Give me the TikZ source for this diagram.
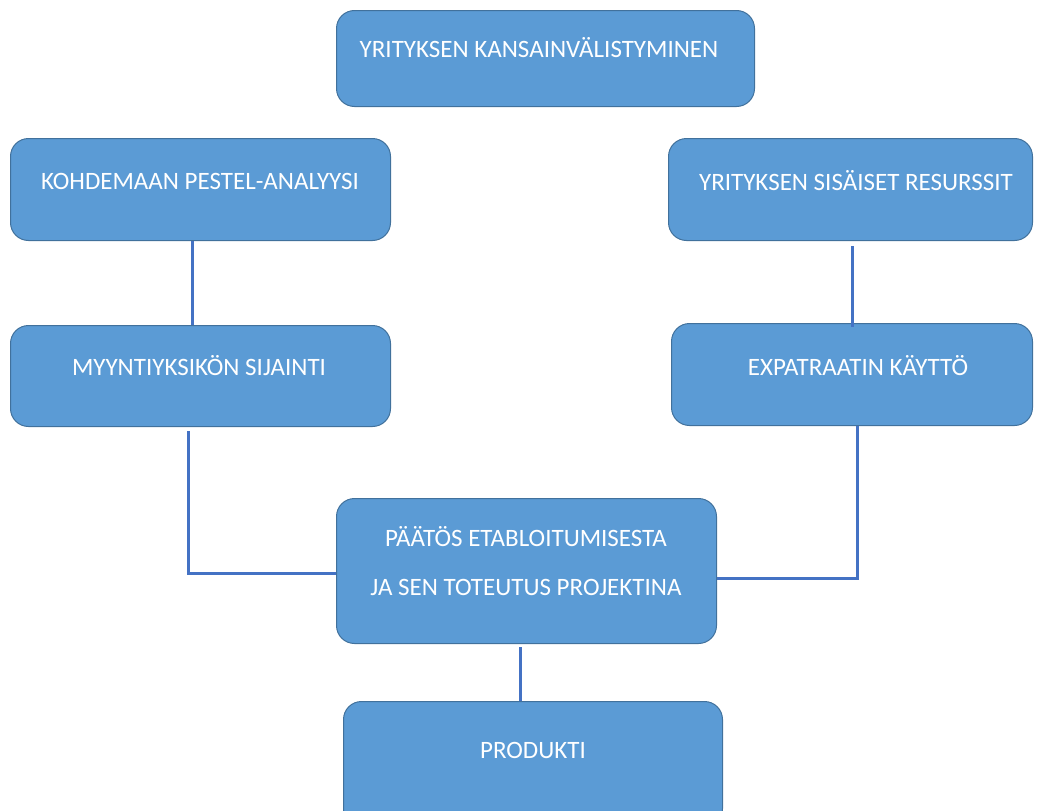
\documentclass[tikz,border=0pt]{standalone}
\usepackage{fontspec}
\setmainfont{Carlito}
\definecolor{boxfill}{HTML}{5B9BD5}
\definecolor{boxline}{HTML}{41719C}
\definecolor{conn}{HTML}{4472C4}
\begin{document}
\begin{tikzpicture}[x=1pt,y=-1pt,
  box/.style={draw=boxline, line width=1pt, fill=boxfill, rounded corners=18pt, inner sep=0pt, anchor=north west},
  txt/.style={text=white, font=\fontsize{25}{30}\selectfont, inner sep=0pt},
  link/.style={draw=conn, line width=2.5pt}]
\useasboundingbox (0,0) rectangle (1045,811);
% boxes
\node[box, minimum width=418pt, minimum height=96pt] (top) at (336,10) {};
\node[box, minimum width=380pt, minimum height=102pt] (kohde) at (10,138) {};
\node[box, minimum width=364pt, minimum height=102pt] (sis) at (668,138) {};
\node[box, minimum width=380pt, minimum height=101pt] (myynti) at (10,325) {};
\node[box, minimum width=361pt, minimum height=102pt] (expat) at (671,323) {};
\node[box, minimum width=380pt, minimum height=145pt] (paatos) at (336,498) {};
\node[box, minimum width=379pt, minimum height=125pt] (produkti) at (343,701) {};
% texts
\node[txt] (ttop) at (539,48) {YRITYKSEN KANSAINVÄLISTYMINEN};
\node[txt] (tkohde) at (200,181) {KOHDEMAAN PESTEL-ANALYYSI};
\node[txt] (tsis) at (856,181) {YRITYKSEN SISÄISET RESURSSIT};
\node[txt] (tmyynti) at (199,366) {MYYNTIYKSIKÖN SIJAINTI};
\node[txt] (texpat) at (858,366) {EXPATRAATIN KÄYTTÖ};
\node[txt] (tpaatos1) at (526,537) {PÄÄTÖS ETABLOITUMISESTA};
\node[txt] (tpaatos2) at (526,587) {JA SEN TOTEUTUS PROJEKTINA};
\node[txt] (tprod) at (533,750) {PRODUKTI};
% connectors
\draw[link] ([xshift=-8pt]kohde.south) -- ([xshift=-8pt]myynti.north);
\draw[link] ([xshift=2pt,yshift=-5pt]sis.south) -- ([xshift=0.5pt,yshift=-4pt]expat.north);
\draw[link] ([xshift=-12pt,yshift=-4pt]myynti.south) |- ([yshift=-2.5pt]paatos.west);
\draw[link] ([yshift=-7.5pt]paatos.east) -| ([xshift=5.5pt]expat.south);
\draw[link] ([xshift=-6pt,yshift=-3pt]paatos.south) -- ([xshift=-12.5pt]produkti.north);
\end{tikzpicture}
\end{document}
